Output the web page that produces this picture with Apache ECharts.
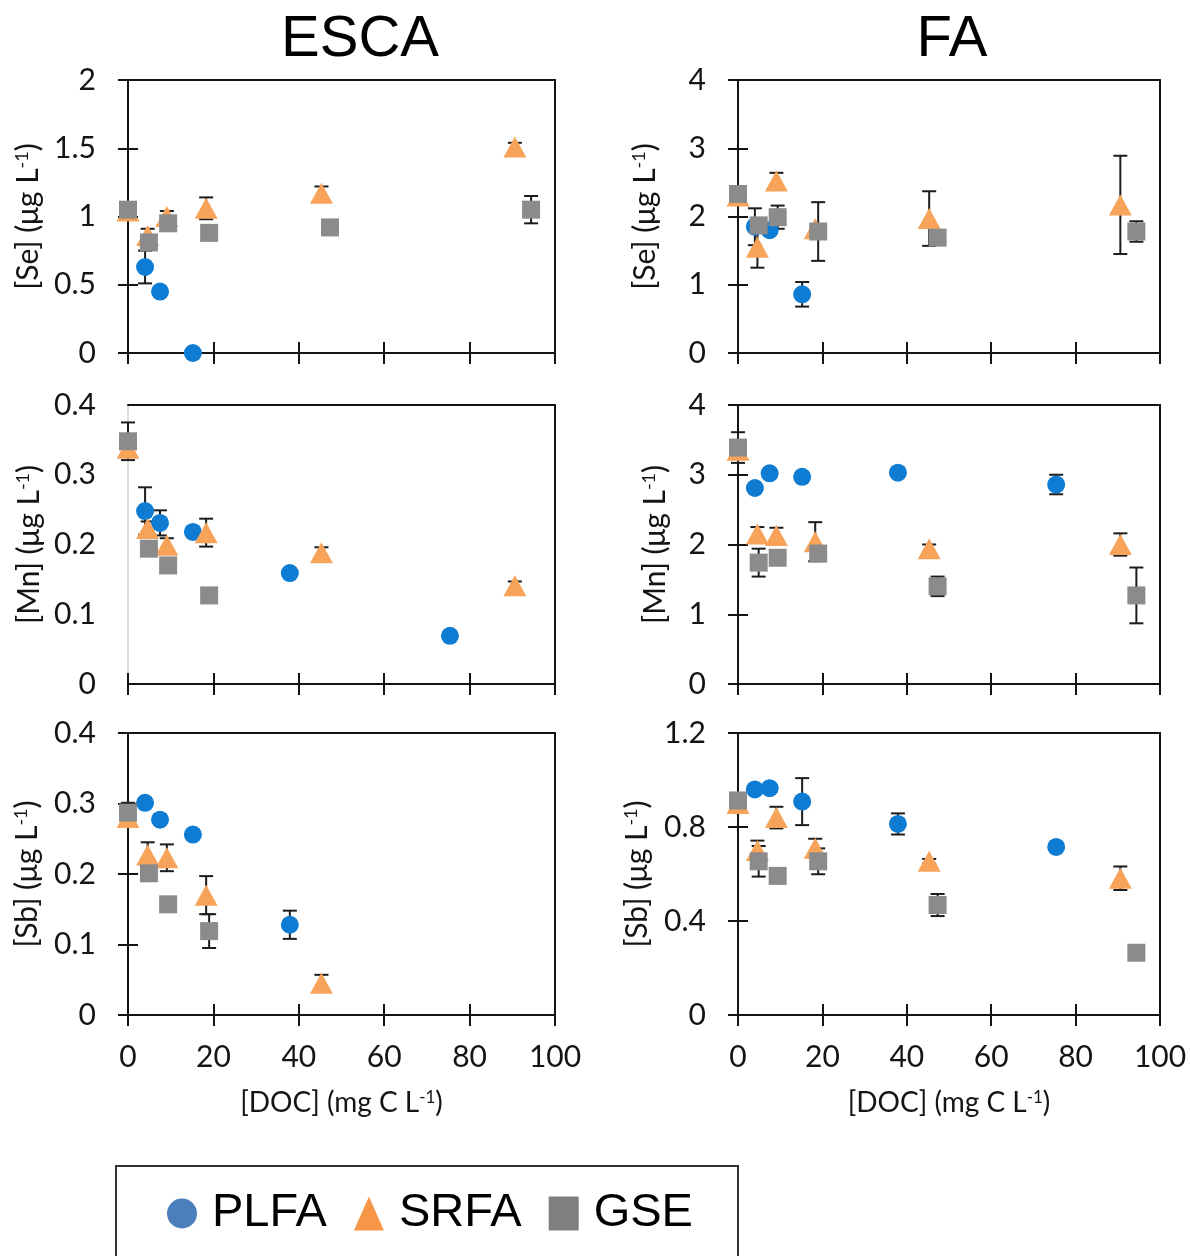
<!DOCTYPE html>
<html><head><meta charset="utf-8">
<script src="https://cdn.jsdelivr.net/npm/echarts@6/dist/echarts.min.js"></script>
<style>html,body{margin:0;padding:0;background:#fff}#c{width:1190px;height:1256px}</style>
</head><body><div id="c"></div>
<script>
// DOC concentration (mg C L-1) of each sample, per organic matter type
const docPLFA = [4.0, 7.5, 15.2, 37.9, 75.4];
const docSRFA = [0, 4.6, 9.1, 18.3, 45.3, 90.6];
const docGSE  = [0, 4.9, 9.4, 19.0, 47.3, 94.4];

// [concentration (µg L-1), error (±)] aligned with the doc arrays; null = not shown
const seEscaPLFA = [[0.63,0.12],[0.45,0],[0,0],null,null];
const seEscaSRFA = [[1.04,0],[0.86,0.05],[1.00,0.04],[1.06,0.08],[1.17,0.05],[1.51,0.03]];
const seEscaGSE  = [[1.05,0],[0.81,0.03],[0.95,0.03],[0.88,0],[0.92,0],[1.05,0.10]];

const seFaPLFA = [[1.85,0.27],[1.80,0],[0.86,0.18],null,null];
const seFaSRFA = [[2.30,0],[1.55,0.30],[2.52,0.12],[1.82,0],[1.97,0.40],[2.17,0.72]];
const seFaGSE  = [[2.33,0],[1.87,0],[1.99,0.17],[1.78,0.43],[1.69,0],[1.78,0.15]];

const mnEscaPLFA = [[0.248,0.034],[0.231,0.018],[0.218,0],[0.159,0.005],[0.069,0]];
const mnEscaSRFA = [[0.338,0],[0.223,0.01],[0.199,0.01],[0.217,0.02],[0.188,0.008],[0.141,0.006]];
const mnEscaGSE  = [[0.348,0.027],[0.194,0],[0.170,0.01],[0.127,0],null,null];

const mnFaPLFA = [[2.81,0],[3.02,0],[2.97,0.03],[3.03,0.04],[2.86,0.14]];
const mnFaSRFA = [[3.35,0],[2.15,0.10],[2.13,0.11],[2.04,0.28],[1.94,0.06],[2.00,0.16]];
const mnFaGSE  = [[3.39,0.22],[1.74,0.20],[1.81,0],[1.87,0],[1.40,0.14],[1.27,0.40]];

const sbEscaPLFA = [[0.301,0],[0.277,0],[0.256,0],[0.128,0.02],null];
const sbEscaSRFA = [[0.280,0],[0.227,0.018],[0.223,0.019],[0.170,0.027],[0.045,0.012],null];
const sbEscaGSE  = [[0.287,0.014],[0.201,0],[0.157,0],[0.119,0.024],null,null];

const sbFaPLFA = [[0.960,0.01],[0.965,0],[0.908,0.10],[0.813,0.045],[0.715,0]];
const sbFaSRFA = [[0.900,0],[0.700,0.042],[0.840,0.046],[0.710,0.04],[0.654,0.01],[0.582,0.05]];
const sbFaGSE  = [[0.913,0],[0.654,0.065],[0.592,0],[0.654,0.055],[0.468,0.047],[0.265,0]];

// Axis settings, panel order: Se ESCA, Se FA, Mn ESCA, Mn FA, Sb ESCA, Sb FA
const panelElements = ['Se','Se','Mn','Mn','Sb','Sb'];
const yMax  = [2, 4, 0.4, 4, 0.4, 1.2];
const yStep = [0.5, 1, 0.1, 1, 0.1, 0.4];
const xMax = 100, xStep = 20;
const columnTitles = ['ESCA', 'FA'];
const seriesNames = ['PLFA', 'SRFA', 'GSE'];

const panelData = [
  [seEscaPLFA, seEscaSRFA, seEscaGSE],
  [seFaPLFA, seFaSRFA, seFaGSE],
  [mnEscaPLFA, mnEscaSRFA, mnEscaGSE],
  [mnFaPLFA, mnFaSRFA, mnFaGSE],
  [sbEscaPLFA, sbEscaSRFA, sbEscaGSE],
  [sbFaPLFA, sbFaSRFA, sbFaGSE]
];
const docs = [docPLFA, docSRFA, docGSE];

// ---- styling / layout ----
const markerColor = ['#0d7cd2', '#f7a45a', '#8b8b8b'];
const legendColor = ['#4a7ebd', '#f79646', '#7f7f7f'];
const markerSymbol = ['circle', 'triangle', 'rect'];
const markerSize = [18, [23, 21], 18];
const rowTop = [80, 405, 733], rowH = [273, 279, 282];
const colLeft = [128, 738], colW = [427, 422];
const nameGaps = [85, 78, 84, 68, 86, 86];
const AX = '#141414';
const FONT = 'Lato';

const grid = [], xAxis = [], yAxis = [], series = [];
const richX = {
  a: {fontSize: 28, fontFamily: FONT, color: AX},
  s: {fontSize: 17, fontFamily: FONT, color: AX, verticalAlign: 'top'}
};
const richY = {
  a: {fontSize: 30, fontFamily: FONT, color: AX},
  s: {fontSize: 18, fontFamily: FONT, color: AX, verticalAlign: 'top'}
};

for (let p = 0; p < 6; p++) {
  const r = Math.floor(p / 2), c = p % 2;
  grid.push({left: colLeft[c], top: rowTop[r], width: colW[c], height: rowH[r]});
  const faint = (p === 2);
  const lineS = {color: AX, width: 2};
  const baseX = {gridIndex: p, type: 'value', min: 0, max: xMax, interval: xStep, splitLine: {show: false}};
  xAxis.push(Object.assign({}, baseX, {
    position: 'bottom',
    axisLine: {show: true, onZero: false, lineStyle: lineS},
    axisTick: {show: true, inside: false, length: 11, lineStyle: lineS},
    axisLabel: {show: r === 2, margin: 27, fontSize: 30, fontFamily: FONT, color: AX},
    name: r === 2 ? '{a|[DOC] (mg C L}{s|-1}{a|)}' : '',
    nameLocation: 'middle', nameGap: 74,
    nameTextStyle: {rich: richX}
  }));
  xAxis.push(Object.assign({}, baseX, {
    position: 'bottom',
    axisLine: {show: false, onZero: false},
    axisTick: {show: true, inside: true, length: 11, lineStyle: lineS},
    axisLabel: {show: false}
  }));
  xAxis.push(Object.assign({}, baseX, {
    position: 'top',
    axisLine: {show: true, onZero: false, lineStyle: lineS},
    axisTick: {show: false}, axisLabel: {show: false}
  }));
  const baseY = {gridIndex: p, type: 'value', min: 0, max: yMax[p], interval: yStep[p], splitLine: {show: false}};
  const yLine = faint ? {color: '#dcdcdc', width: 2} : lineS;
  yAxis.push(Object.assign({}, baseY, {
    position: 'left',
    axisLine: {show: true, onZero: false, lineStyle: yLine},
    axisTick: {show: !faint, inside: false, length: 10, lineStyle: lineS},
    axisLabel: {show: true, margin: 32, fontSize: 30, fontFamily: FONT, color: AX},
    name: '{a|[' + panelElements[p] + '] (μg L}{s|-1}{a|)}',
    nameLocation: 'middle', nameGap: nameGaps[p],
    nameTextStyle: {rich: richY}
  }));
  yAxis.push(Object.assign({}, baseY, {
    position: 'left',
    axisLine: {show: false, onZero: false},
    axisTick: {show: !faint, inside: true, length: 10, lineStyle: lineS},
    axisLabel: {show: false}
  }));
  yAxis.push(Object.assign({}, baseY, {
    position: 'right',
    axisLine: {show: true, onZero: false, lineStyle: lineS},
    axisTick: {show: false}, axisLabel: {show: false}
  }));

  for (let s = 0; s < 3; s++) {
    const vals = panelData[p][s], xs = docs[s];
    const pts = [], bars = [];
    vals.forEach((v, i) => {
      if (!v) return;
      pts.push([xs[i], v[0]]);
      if (v[1] > 0) bars.push([xs[i], v[0] - v[1], v[0] + v[1]]);
    });
    series.push({
      type: 'custom', name: seriesNames[s], xAxisIndex: p * 3, yAxisIndex: p * 3,
      z: 2, silent: true, clip: false,
      renderItem: function (params, api) {
        const x = api.value(0);
        const top = api.coord([x, api.value(2)]);
        const bot = api.coord([x, api.value(1)]);
        const cap = 7;
        const st = {stroke: '#1c1c1c', lineWidth: 2};
        return {type: 'group', children: [
          {type: 'line', shape: {x1: top[0], y1: top[1], x2: bot[0], y2: bot[1]}, style: st},
          {type: 'line', shape: {x1: top[0] - cap, y1: top[1], x2: top[0] + cap, y2: top[1]}, style: st},
          {type: 'line', shape: {x1: bot[0] - cap, y1: bot[1], x2: bot[0] + cap, y2: bot[1]}, style: st}
        ]};
      },
      encode: {x: 0, y: [1, 2]},
      data: bars
    });
    series.push({
      type: 'scatter', name: seriesNames[s], xAxisIndex: p * 3, yAxisIndex: p * 3,
      z: 3 + s, clip: false,
      symbol: markerSymbol[s], symbolSize: markerSize[s],
      itemStyle: {color: markerColor[s], opacity: 1},
      emphasis: {disabled: true},
      data: pts
    });
  }
}

const chart = echarts.init(document.getElementById('c'), null, {renderer: 'canvas'});
chart.setOption({
  animation: false,
  backgroundColor: '#fff',
  title: [
    {text: columnTitles[0], left: 360, top: 11, padding: 0, textAlign: 'center',
     textStyle: {fontFamily: 'Liberation Sans', fontSize: 58, fontWeight: 'normal', color: '#000'}},
    {text: columnTitles[1], left: 952, top: 11, padding: 0, textAlign: 'center',
     textStyle: {fontFamily: 'Liberation Sans', fontSize: 58, fontWeight: 'normal', color: '#000'}}
  ],
  legend: {
    left: 167, top: 1190, padding: 0, itemWidth: 30, itemHeight: 34, itemGap: 27,
    selectedMode: false,
    textStyle: {fontFamily: 'Liberation Sans', fontSize: 47, color: '#000', padding: [0, 0, 0, 10]},
    data: seriesNames.map((n, i) => ({name: n, icon: markerSymbol[i], itemStyle: {color: legendColor[i]}}))
  },
  graphic: [{
    type: 'rect', shape: {x: 116, y: 1166, width: 622, height: 200},
    style: {fill: 'none', stroke: '#333', lineWidth: 2}, silent: true
  }],
  grid: grid, xAxis: xAxis, yAxis: yAxis, series: series
});
</script></body></html>
